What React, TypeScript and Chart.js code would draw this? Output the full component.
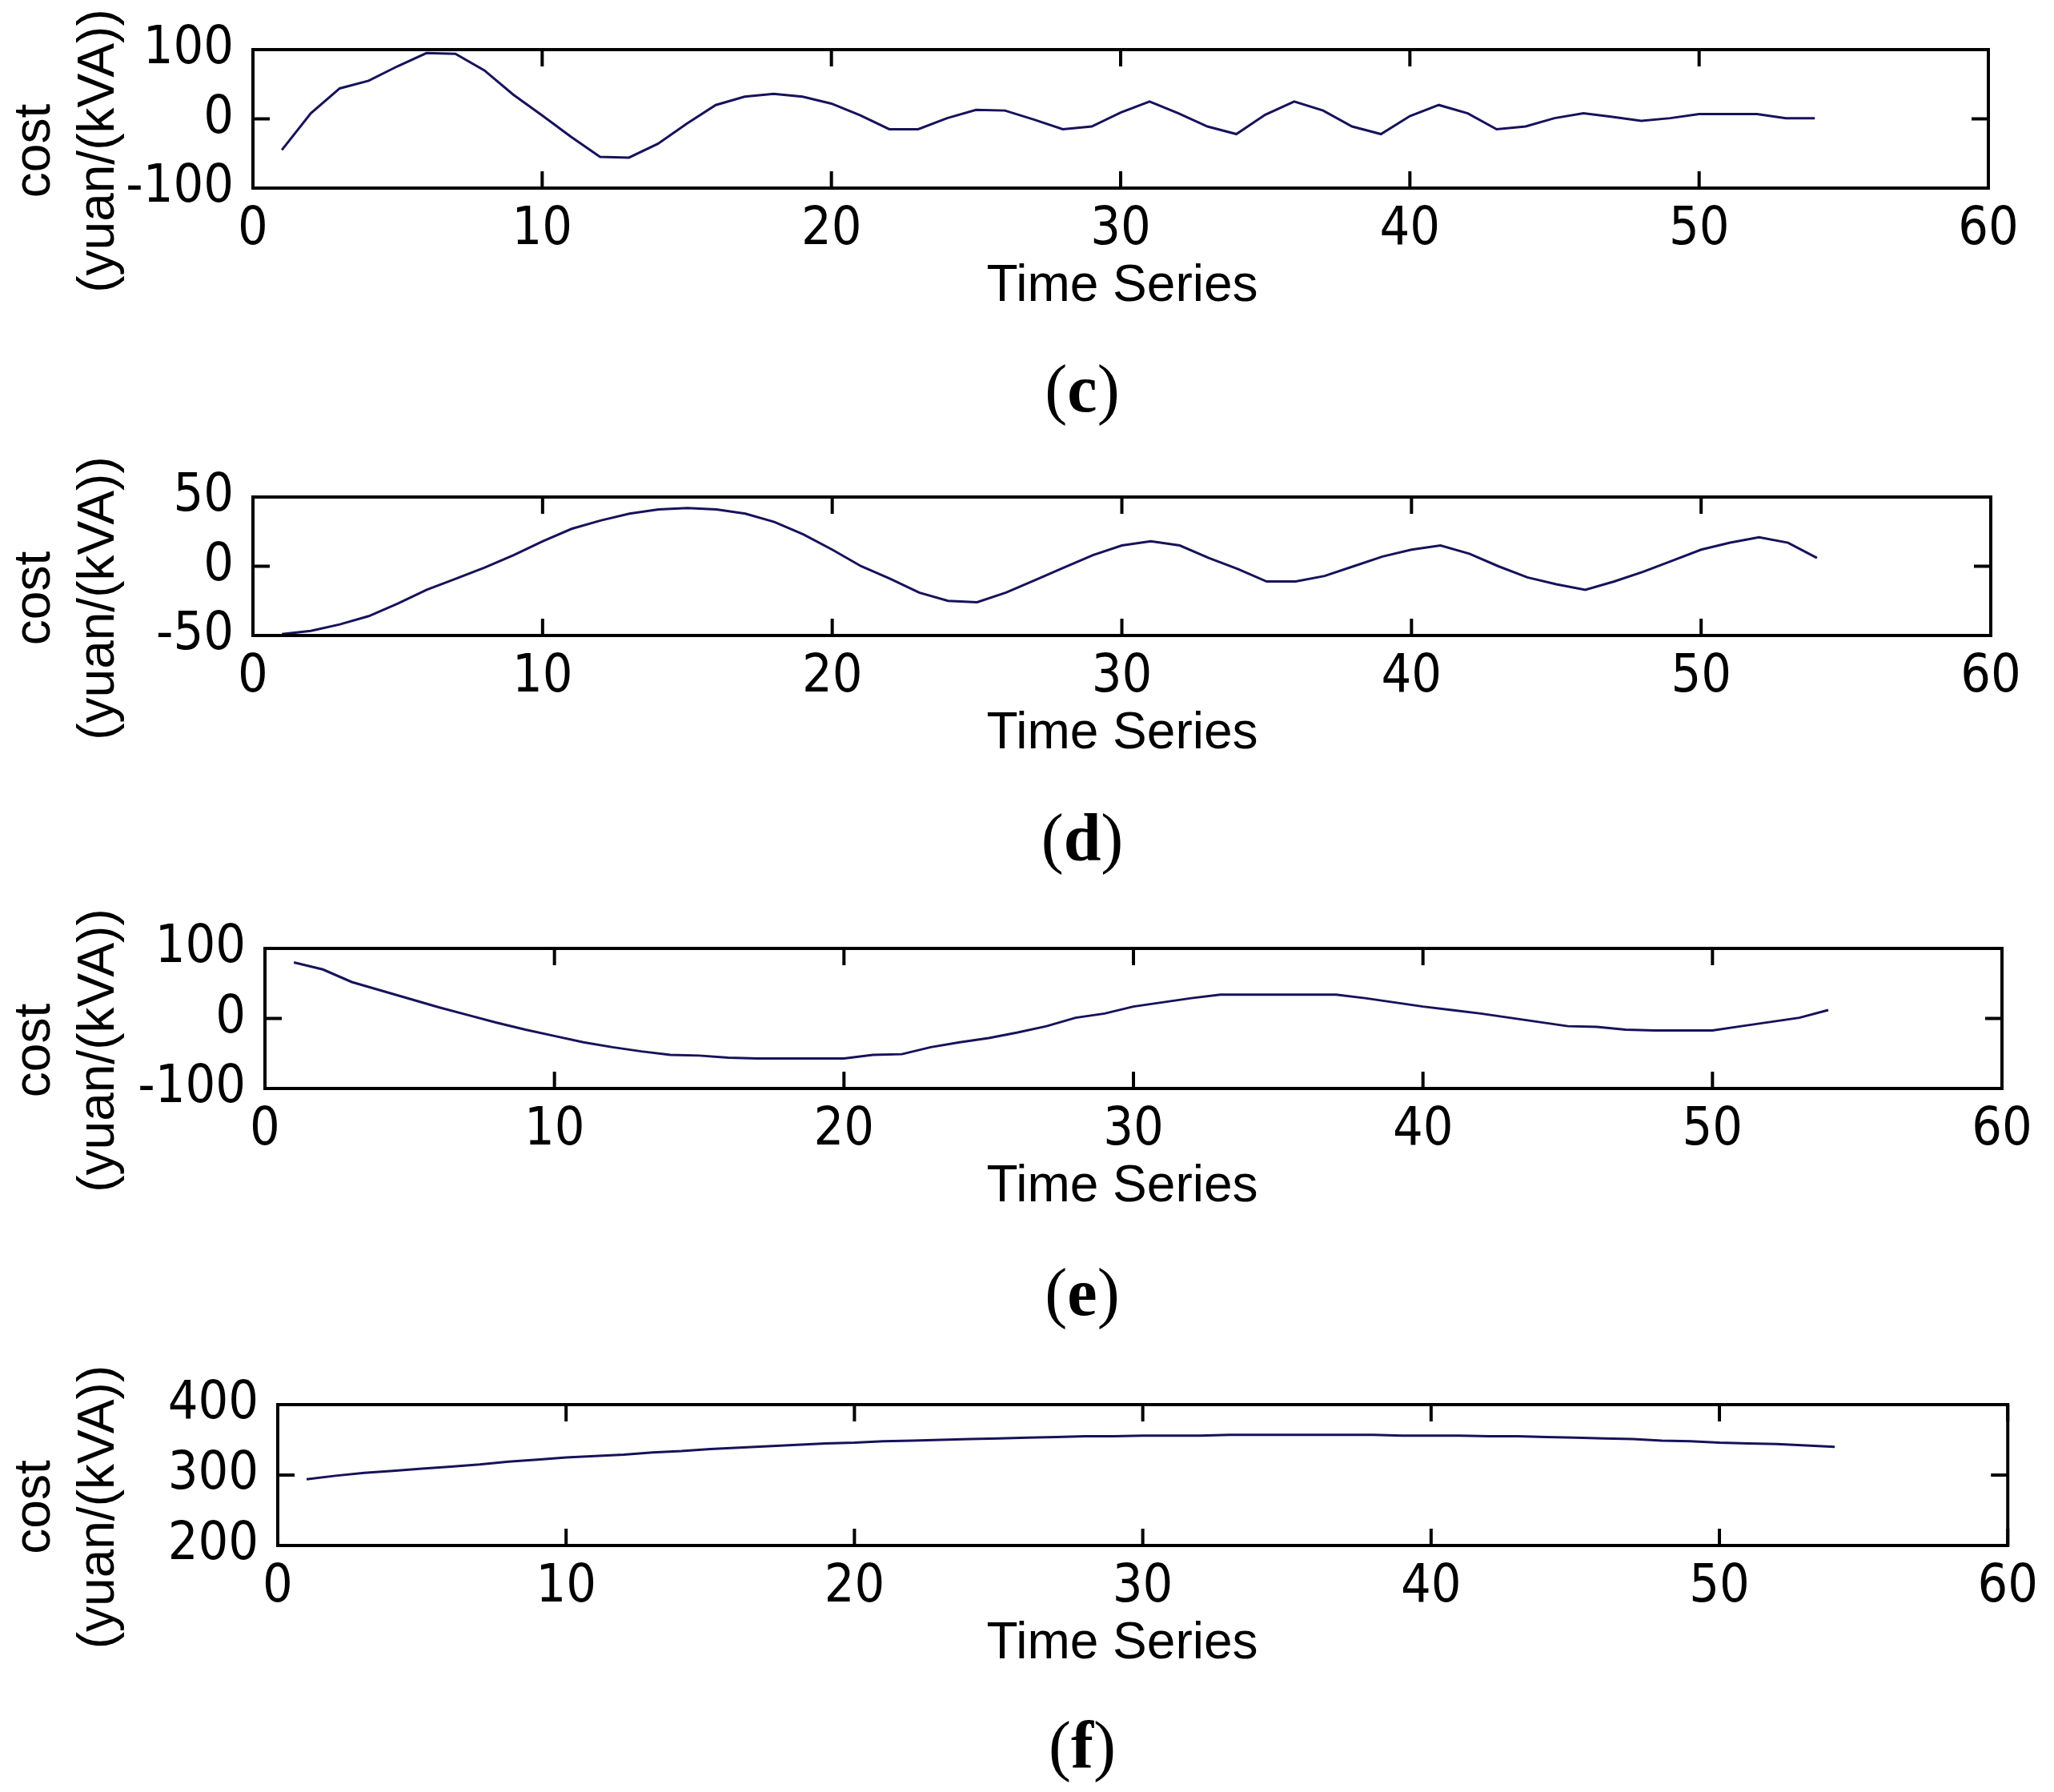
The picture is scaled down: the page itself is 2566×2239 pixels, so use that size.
import { useEffect, useRef } from "react";
import { Chart, registerables } from "chart.js";

Chart.register(...registerables);

// ---- data ----
const timeSeries = Array.from({ length: 54 }, (_, i) => i + 1);

const costC = [
  -45, 8, 44, 55, 76, 95, 94, 70, 35, 5,
  -26, -55, -56, -36, -7, 20, 32, 36, 32, 22,
  5, -15, -15, 1, 13, 12, -1, -15, -11, 9,
  25, 8, -11, -22, 6, 25, 12, -11, -22, 4,
  20, 8, -15, -11, 1, 8, 3, -3, 1, 7,
  7, 7, 1, 1,
];

const costD = [
  -49, -46.7, -42, -36, -27, -17, -9, -1, 8, 18,
  27, 33, 38, 41, 42, 41, 38, 32, 23, 12,
  0, -9, -19, -25, -26, -19, -10, -1, 8, 15,
  18, 15, 6, -2, -11, -11, -7, 0, 7, 12,
  15, 9, 0, -8, -13, -17, -11, -4, 4, 12,
  17, 21, 17, 6,
];

const costE = [
  80, 70, 52, 40, 28, 16, 5, -6, -16, -25,
  -34, -41, -47, -52, -53, -56, -57, -57, -57, -57,
  -52, -51, -41, -34, -28, -20, -11, 1, 7, 17,
  23, 29, 34, 34, 34, 34, 34, 29, 23, 17,
  12, 7, 1, -5, -11, -12, -16, -17, -17, -17,
  -11, -5, 1, 12,
];

const costF = [
  294, 299, 303, 306, 309, 312, 315, 319, 322, 325,
  327, 329, 332, 334, 337, 339, 341, 343, 345, 346,
  348, 349, 350, 351, 352, 353, 354, 355, 355, 356,
  356, 356, 357, 357, 357, 357, 357, 357, 356, 356,
  356, 355, 355, 354, 353, 352, 351, 349, 348, 346,
  345, 344, 342, 340,
];

const xTickStep = 10;
const xRange = [0, 60];
const yRangeC = [-100, 100];
const yRangeD = [-50, 50];
const yRangeE = [-100, 100];
const yRangeF = [200, 400];
const yStepC = 100;
const yStepD = 50;
const yStepE = 100;
const yStepF = 100;

const xTitle = "Time Series";
const yTitleLines = ["cost", "(yuan/(kVA))"];
const captionLetters = ["c", "d", "e", "f"];

// ---- layout ----
const PAGE_W = 2566;
const PAGE_H = 2239;
const TOP_PAD = 60;
const BOTTOM_AREA = 175;
const TITLE_X = 1402;
const LINE_COLOR = "#16125a";
const TICK_FONT = "'Liberation Sans Narrow', 'DejaVu Sans Condensed', 'Liberation Sans', Arial, sans-serif";
const TEXT_FONT = "'Liberation Sans', Arial, sans-serif";

type Panel = {
  values: number[];
  yRange: number[];
  yStep: number;
  plot: { left: number; right: number; top: number; bottom: number };
  caption: string;
  captionY: number;
};

const panels: Panel[] = [
  { values: costC, yRange: yRangeC, yStep: yStepC, plot: { left: 316, right: 2484, top: 62, bottom: 235 }, caption: captionLetters[0], captionY: 486 },
  { values: costD, yRange: yRangeD, yStep: yStepD, plot: { left: 316, right: 2487, top: 621, bottom: 794 }, caption: captionLetters[1], captionY: 1047 },
  { values: costE, yRange: yRangeE, yStep: yStepE, plot: { left: 331, right: 2501, top: 1185, bottom: 1360 }, caption: captionLetters[2], captionY: 1615 },
  { values: costF, yRange: yRangeF, yStep: yStepF, plot: { left: 347, right: 2519, top: 1755, bottom: 1931 }, caption: captionLetters[3], captionY: 2181 },
];

// box, inward ticks on all four sides, axis labels placed like the figure's
const matlabFrame = {
  id: "matlabFrame",
  afterDraw(chart: any) {
    const { ctx, chartArea: a, scales } = chart;
    const x = scales.x;
    const y = scales.y;
    const len = 21;
    ctx.save();
    ctx.strokeStyle = "#000";
    ctx.lineWidth = 4;
    ctx.strokeRect(a.left, a.top, a.right - a.left, a.bottom - a.top);
    ctx.beginPath();
    x.ticks.forEach((t: any) => {
      const px = x.getPixelForValue(t.value);
      ctx.moveTo(px, a.bottom);
      ctx.lineTo(px, a.bottom - len);
      ctx.moveTo(px, a.top);
      ctx.lineTo(px, a.top + len);
    });
    y.ticks.forEach((t: any) => {
      const py = y.getPixelForValue(t.value);
      ctx.moveTo(a.left, py);
      ctx.lineTo(a.left + len, py);
      ctx.moveTo(a.right, py);
      ctx.lineTo(a.right - len, py);
    });
    ctx.stroke();

    ctx.fillStyle = "#000";
    ctx.font = `64px ${TEXT_FONT}`;
    ctx.textAlign = "center";

    // x title, centred on the figure rather than on each axis
    ctx.textBaseline = "middle";
    ctx.fillText(xTitle, TITLE_X, a.bottom + 123);

    ctx.textBaseline = "alphabetic";
    const cy = (a.top + a.bottom) / 2 + 40;
    const baselines = [62, 142];
    yTitleLines.forEach((line, i) => {
      ctx.save();
      ctx.translate(baselines[i], cy);
      ctx.rotate(-Math.PI / 2);
      ctx.fillText(line, 0, 0);
      ctx.restore();
    });
    ctx.restore();
  },
};

const CostPanel = ({ panel }: { panel: Panel }) => {
  const ref = useRef<HTMLCanvasElement | null>(null);
  const { plot } = panel;
  const canvasTop = plot.top - TOP_PAD;
  const height = TOP_PAD + (plot.bottom - plot.top) + BOTTOM_AREA;

  useEffect(() => {
    if (!ref.current) return;
    const chart = new Chart(ref.current, {
      type: "line",
      data: {
        datasets: [
          {
            data: timeSeries.map((t, i) => ({ x: t, y: panel.values[i] })),
            borderColor: LINE_COLOR,
            borderWidth: 3,
            pointRadius: 0,
            tension: 0,
            fill: false,
          },
        ],
      },
      options: {
        animation: false,
        responsive: false,
        devicePixelRatio: 1,
        events: [],
        layout: { padding: { top: TOP_PAD, right: PAGE_W - plot.right, left: 0, bottom: 0 } },
        plugins: { legend: { display: false }, tooltip: { enabled: false } },
        scales: {
          x: {
            type: "linear",
            min: xRange[0],
            max: xRange[1],
            grid: { display: false, drawTicks: false },
            border: { display: false },
            ticks: {
              stepSize: xTickStep,
              color: "#000",
              padding: 20,
              maxRotation: 0,
              autoSkip: false,
              font: { size: 66, family: TICK_FONT, lineHeight: 1 },
            },
            afterFit: (scale: any) => {
              scale.height = BOTTOM_AREA;
            },
          },
          y: {
            type: "linear",
            min: panel.yRange[0],
            max: panel.yRange[1],
            grid: { display: false, drawTicks: false },
            border: { display: false },
            ticks: {
              stepSize: panel.yStep,
              color: "#000",
              padding: 24,
              font: { size: 66, family: TICK_FONT, lineHeight: 1 },
            },
            afterFit: (scale: any) => {
              scale.width = plot.left;
            },
          },
        },
      },
      plugins: [matlabFrame],
    } as any);
    return () => chart.destroy();
  }, [panel]);

  return (
    <canvas
      ref={ref}
      width={PAGE_W}
      height={height}
      style={{ position: "absolute", left: 0, top: canvasTop, width: PAGE_W, height }}
    />
  );
};

export default function App() {
  return (
    <div style={{ position: "absolute", left: 0, top: 0, width: PAGE_W, height: PAGE_H, background: "#fff" }}>
      {panels.map((p) => (
        <div key={p.caption}>
          <CostPanel panel={p} />
          <div
            style={{
              position: "absolute",
              left: 1352,
              top: p.captionY,
              transform: "translate(-50%, -50%)",
              fontFamily: "'Liberation Serif', 'Times New Roman', serif",
              fontSize: 84,
              fontWeight: 400,
              lineHeight: 1,
              whiteSpace: "nowrap",
              color: "#000",
            }}
          >
            (<b>{p.caption}</b>)
          </div>
        </div>
      ))}
    </div>
  );
}
